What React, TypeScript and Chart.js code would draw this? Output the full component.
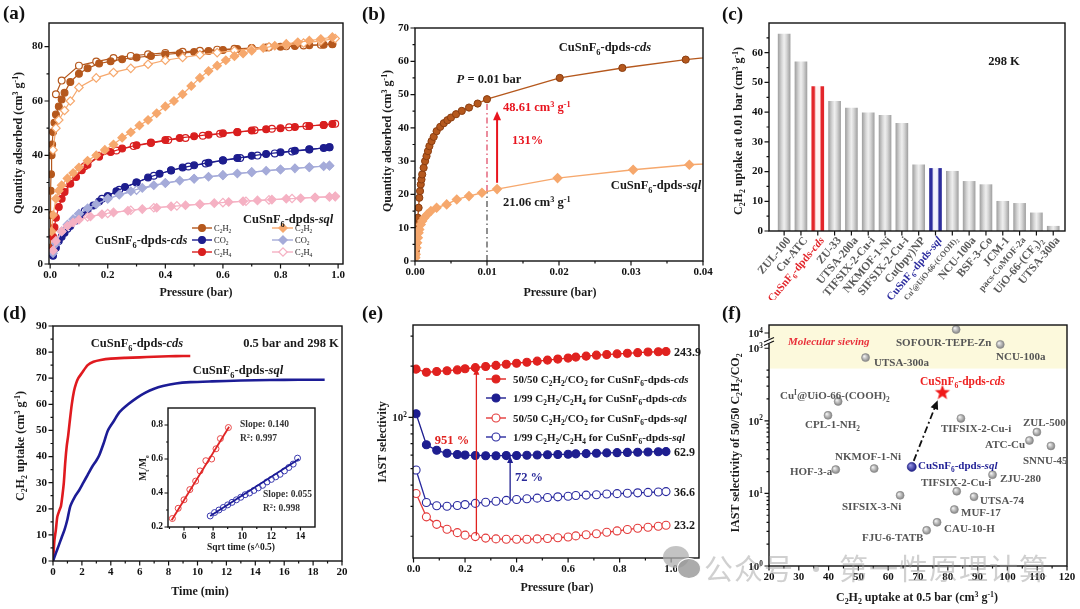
import React, { useEffect, useRef } from 'react';
import { Chart, registerables } from 'chart.js';

Chart.register(...registerables);

const FONT = '"Liberation Serif","Times New Roman","DejaVu Serif",serif';

/* ===================== DATA ===================== */
// (a) isotherms, pressure (bar) / uptake (cm3 g-1)
const A_CDS_C2H2_P = [0.0002, 0.001, 0.002, 0.003, 0.005, 0.007, 0.01, 0.015, 0.02, 0.03, 0.04, 0.05, 0.07, 0.1, 0.13, 0.17, 0.21, 0.25, 0.3, 0.35, 0.4, 0.45, 0.5, 0.55, 0.6, 0.65, 0.7, 0.75, 0.8, 0.85, 0.9, 0.95, 0.98];
const A_CDS_C2H2_Q = [6, 18, 27, 33, 40, 44, 48.6, 52, 55, 58, 60.5, 63, 67, 70, 72, 73.8, 74.6, 75.4, 76, 76.6, 77.1, 77.6, 78, 78.4, 78.8, 79.1, 79.4, 79.7, 80, 80.2, 80.5, 80.7, 80.9];
const A_CDS_C2H2_DP = [0.02, 0.04, 0.1, 0.16, 0.22, 0.28, 0.34, 0.4, 0.46, 0.52, 0.58, 0.64, 0.7, 0.76, 0.82, 0.88, 0.94, 0.98];
const A_CDS_C2H2_DQ = [62.5, 67.5, 73, 74.5, 75.8, 76.6, 77.2, 77.7, 78.1, 78.5, 78.9, 79.2, 79.5, 79.8, 80.1, 80.4, 80.7, 81];
const A_SQL_C2H2_P = [0.005, 0.01, 0.02, 0.03, 0.04, 0.06, 0.08, 0.1, 0.13, 0.16, 0.19, 0.22, 0.25, 0.28, 0.31, 0.34, 0.37, 0.4, 0.43, 0.46, 0.49, 0.52, 0.55, 0.58, 0.61, 0.64, 0.67, 0.7, 0.74, 0.78, 0.82, 0.86, 0.9, 0.94, 0.98];
const A_SQL_C2H2_Q = [12, 18, 24, 27, 29, 31.5, 33.5, 35.5, 38, 40, 42, 44, 46.5, 48.5, 51, 53, 55.5, 58, 60, 62.5, 65.5, 68.5, 71, 73, 75, 76.5, 77.5, 78.5, 79.5, 80.3, 81, 81.6, 82.2, 82.8, 83.5];
const A_SQL_C2H2_DP = [0.01, 0.02, 0.03, 0.05, 0.07, 0.1, 0.16, 0.22, 0.28, 0.34, 0.4, 0.46, 0.52, 0.58, 0.64, 0.7, 0.76, 0.82, 0.88, 0.94, 0.99];
const A_SQL_C2H2_DQ = [42, 50, 53, 56.5, 60, 65, 68.5, 70.5, 72, 73.5, 75, 76, 77, 77.8, 78.5, 79.2, 79.9, 80.6, 81.3, 82.1, 83];
const A_CDS_C2H4_P = [0.005, 0.01, 0.015, 0.02, 0.03, 0.04, 0.05, 0.07, 0.09, 0.11, 0.13, 0.17, 0.21, 0.25, 0.3, 0.35, 0.4, 0.45, 0.5, 0.55, 0.6, 0.65, 0.7, 0.75, 0.8, 0.85, 0.9, 0.95, 0.98];
const A_CDS_C2H4_Q = [5, 10, 13.5, 17, 21, 24, 26.5, 29.5, 32, 34.5, 36.5, 39.5, 41.2, 42.5, 43.7, 44.7, 45.6, 46.4, 47, 47.6, 48.1, 48.6, 49.1, 49.6, 50, 50.4, 50.8, 51.2, 51.5];
const A_CDS_C2H4_DP = [0.05, 0.12, 0.17, 0.23, 0.29, 0.35, 0.41, 0.47, 0.53, 0.59, 0.65, 0.71, 0.77, 0.83, 0.89, 0.95, 0.99];
const A_CDS_C2H4_DQ = [27.5, 36, 39.8, 41.8, 43.4, 44.5, 45.6, 46.4, 47.2, 47.9, 48.5, 49.2, 49.8, 50.3, 50.8, 51.2, 51.6];
const A_CDS_CO2_P = [0.01, 0.02, 0.03, 0.04, 0.05, 0.07, 0.09, 0.11, 0.13, 0.15, 0.17, 0.2, 0.23, 0.26, 0.3, 0.34, 0.38, 0.42, 0.46, 0.5, 0.55, 0.6, 0.65, 0.7, 0.75, 0.8, 0.85, 0.9, 0.95, 0.97];
const A_CDS_CO2_Q = [3, 6, 8.5, 10, 11.5, 14, 16, 18, 20, 21.5, 23, 25, 26.8, 28.3, 30, 31.8, 33.2, 34.4, 35.5, 36.3, 37.3, 38.2, 39, 39.8, 40.5, 41.1, 41.7, 42.2, 42.7, 43];
const A_CDS_CO2_DP = [0.06, 0.12, 0.18, 0.24, 0.3, 0.36, 0.42, 0.48, 0.54, 0.6, 0.66, 0.72, 0.78, 0.84, 0.9, 0.97];
const A_CDS_CO2_DQ = [13, 19.5, 24, 27.3, 30, 32.5, 34.5, 35.9, 37, 38.1, 39, 39.9, 40.7, 41.4, 42.1, 43];
const A_SQL_CO2_P = [0.01, 0.02, 0.04, 0.06, 0.08, 0.1, 0.13, 0.16, 0.2, 0.24, 0.28, 0.32, 0.36, 0.4, 0.45, 0.5, 0.55, 0.6, 0.65, 0.7, 0.75, 0.8, 0.85, 0.9, 0.95, 0.97];
const A_SQL_CO2_Q = [4, 7.5, 12, 14.5, 16.5, 18.5, 20.5, 22, 24, 25.5, 26.8, 28, 29, 29.8, 30.7, 31.4, 32.1, 32.7, 33.3, 33.8, 34.3, 34.8, 35.2, 35.6, 36, 36.2];
const A_SQL_CO2_DP = [0.1, 0.2, 0.3, 0.4, 0.5, 0.6, 0.7, 0.8, 0.9, 0.97];
const A_SQL_CO2_DQ = [18.5, 24, 27.2, 29.8, 31.4, 32.7, 33.8, 34.8, 35.6, 36.2];
const A_SQL_C2H4_P = [0.01, 0.02, 0.04, 0.06, 0.08, 0.1, 0.14, 0.18, 0.22, 0.27, 0.32, 0.37, 0.42, 0.47, 0.52, 0.57, 0.62, 0.67, 0.72, 0.77, 0.82, 0.87, 0.92, 0.97, 0.99];
const A_SQL_C2H4_Q = [5, 8.5, 12, 14, 15.3, 16.3, 17.5, 18.3, 19, 19.6, 20.2, 20.7, 21.2, 21.6, 22, 22.4, 22.8, 23.1, 23.4, 23.7, 24, 24.2, 24.5, 24.7, 24.8];
const A_SQL_C2H4_DP = [0.13, 0.2, 0.28, 0.36, 0.44, 0.52, 0.6, 0.68, 0.76, 0.84, 0.92, 0.99];
const A_SQL_C2H4_DQ = [17.3, 18.6, 19.8, 20.7, 21.4, 22, 22.6, 23.1, 23.6, 24.1, 24.5, 24.9];
const A_GAS_LABELS = ['C_{2}H_{2}', 'CO_{2}', 'C_{2}H_{4}'];
const A_X_TICKS = [0, 0.2, 0.4, 0.6, 0.8, 1.0];
const A_Y_TICKS = [0, 20, 40, 60, 80];

// (b) low-pressure C2H2
const B_P_CDS = [0.00005, 0.0001, 0.00015, 0.0002, 0.00025, 0.0003, 0.0004, 0.0005, 0.0006, 0.0007, 0.0008, 0.0009, 0.001, 0.0012, 0.0014, 0.0016, 0.0018, 0.002, 0.0023, 0.0026, 0.003, 0.0035, 0.004, 0.0045, 0.005, 0.0057, 0.0065, 0.0075, 0.0087, 0.01, 0.0201, 0.0288, 0.0376, 0.046];
const B_Q_CDS = [1.5, 3, 5, 7, 9, 11, 13, 16, 19, 21, 23, 24.5, 26, 28, 30, 31.5, 33, 34.5, 36, 37.3, 39, 40.3, 41.4, 42.3, 43.1, 44.1, 45.1, 46.1, 47.3, 48.61, 55, 58, 60.5, 62.3];
const B_P_SQL = [0.00005, 0.0001, 0.0002, 0.0003, 0.0004, 0.0005, 0.0006, 0.0008, 0.001, 0.0013, 0.0017, 0.0022, 0.003, 0.0044, 0.0058, 0.0075, 0.0093, 0.0114, 0.0198, 0.0303, 0.0381, 0.046];
const B_Q_SQL = [1, 2, 4, 5.5, 7, 8.5, 9.5, 11, 12, 13, 14, 15, 16, 17, 18.5, 19.5, 20.5, 21.6, 24.9, 27.4, 28.9, 30];
const B_X_TICKS = [0, 0.01, 0.02, 0.03, 0.04];
const B_Y_TICKS = [0, 10, 20, 30, 40, 50, 60, 70];

// (c) C2H2 uptake at 0.01 bar
const C_NAMES = ['ZUL-100', 'Cu-ATC', 'CuSnF_{6}-dpds-*cds*', 'ZU-33', 'UTSA-200a', 'TIFSIX-2-Cu-i', 'NKMOF-1-Ni', 'SIFSIX-2-Cu-i', 'Cu(bpy)NP', 'CuSnF_{6}-dpds-*sql*', 'Cu^{I}@UiO-66-(COOH)_{2}', 'NCU-100a', 'BSF-3-Co', 'JCM-1', 'pacs-CoMOF-2a', 'UiO-66-(CF_{3})_{2}', 'UTSA-300a'];
const C_VALUES = [66.3, 56.9, 48.61, 43.6, 41.4, 39.8, 38.9, 36.2, 22.3, 21.06, 20.1, 16.7, 15.6, 10.0, 9.3, 6.1, 1.6];
const C_Y_TICKS = [0, 10, 20, 30, 40, 50, 60];

// (d) kinetics, time (min) / uptake
const D_T_CDS = [0, 0.05, 0.1, 0.2, 0.3, 0.45, 0.55, 0.65, 0.75, 0.85, 0.95, 1.05, 1.15, 1.3, 1.45, 1.6, 1.75, 2.0, 2.4, 2.8, 3.3, 4, 5, 6, 7, 8, 9, 9.5];
const D_Q_CDS = [0, 4, 8, 12, 17, 19.5, 21, 25, 30, 38, 44, 48, 53, 60, 65, 68, 70, 72, 75, 76.3, 77, 77.5, 77.8, 78, 78.2, 78.4, 78.5, 78.5];
const D_T_SQL = [0, 0.2, 0.4, 0.6, 0.8, 1.0, 1.2, 1.5, 1.8, 2.1, 2.4, 2.7, 3.0, 3.2, 3.5, 3.8, 4.2, 4.6, 5.2, 5.8, 6.4, 7, 7.6, 8.5, 9.5, 11, 13, 15, 17, 18.8];
const D_Q_SQL = [0, 3, 6, 9, 12, 16, 21, 24.5, 27, 30, 33, 36, 38.5, 40.5, 45, 50, 53.5, 57, 60, 62.5, 64.5, 66, 67, 68, 68.5, 68.8, 69.1, 69.3, 69.4, 69.4];
const D_X_TICKS = [0, 2, 4, 6, 8, 10, 12, 14, 16, 18, 20];
const D_Y_TICKS = [0, 10, 20, 30, 40, 50, 60, 70, 80, 90];
// inset: sqrt time / Mt/Me
const DI_RED_X = [5.2, 5.6, 6.0, 6.4, 6.8, 7.1, 7.5, 7.9, 8.2, 8.5, 9.05];
const DI_RED_Y = [0.25, 0.31, 0.36, 0.42, 0.47, 0.53, 0.59, 0.6, 0.66, 0.72, 0.785];
const DI_RED_FIT_X = [5.15, 9.1];
const DI_RED_FIT_Y = [0.24, 0.79];
const DI_BLUE_X = [7.8, 8.1, 8.4, 8.7, 9.0, 9.3, 9.6, 9.9, 10.2, 10.5, 10.8, 11.1, 11.4, 11.7, 12.0, 12.3, 12.6, 12.9, 13.2, 13.5, 13.8];
const DI_BLUE_Y = [0.265, 0.285, 0.3, 0.315, 0.33, 0.345, 0.36, 0.375, 0.39, 0.4, 0.415, 0.43, 0.445, 0.465, 0.48, 0.495, 0.51, 0.53, 0.55, 0.57, 0.605];
const DI_BLUE_FIT_X = [7.8, 13.9];
const DI_BLUE_FIT_Y = [0.265, 0.6];
const DI_X_TICKS = [6, 8, 10, 12, 14];
const DI_Y_TICKS = [0.2, 0.4, 0.6, 0.8];

// (e) IAST selectivity
const E_P = [0.01, 0.05, 0.09, 0.13, 0.17, 0.20, 0.24, 0.28, 0.32, 0.36, 0.40, 0.44, 0.48, 0.52, 0.56, 0.60, 0.63, 0.67, 0.71, 0.75, 0.79, 0.83, 0.87, 0.91, 0.95, 0.98];
const E_CDS_CO2 = [192, 184, 186, 188, 190, 193, 196, 199, 202, 205, 208, 211, 214, 217, 220, 223, 226, 229, 232, 234, 236, 238, 240, 242, 243, 243.9];
const E_CDS_C2H4 = [105, 69, 64, 61.5, 60.5, 60, 59.7, 59.5, 59.5, 59.6, 59.7, 59.9, 60.1, 60.3, 60.5, 60.7, 61, 61.2, 61.5, 61.8, 62, 62.2, 62.4, 62.6, 62.8, 62.9];
const E_SQL_CO2 = [35.7, 26, 23.5, 22, 21, 20.3, 19.9, 19.5, 19.3, 19.2, 19.2, 19.2, 19.3, 19.4, 19.6, 19.8, 20.1, 20.4, 20.7, 21.1, 21.5, 21.9, 22.3, 22.6, 22.9, 23.2];
const E_SQL_C2H4 = [49, 31.6, 30.2, 30, 30.3, 30.7, 31.2, 31.7, 32.1, 32.5, 32.9, 33.2, 33.5, 33.8, 34.1, 34.4, 34.7, 34.9, 35.1, 35.4, 35.6, 35.8, 36, 36.2, 36.4, 36.6];
const E_LEGEND = [
  '50/50 C_{2}H_{2}/CO_{2} for CuSnF_{6}-dpds-*cds*',
  '1/99 C_{2}H_{2}/C_{2}H_{4} for CuSnF_{6}-dpds-*cds*',
  '50/50 C_{2}H_{2}/CO_{2} for CuSnF_{6}-dpds-*sql*',
  '1/99 C_{2}H_{2}/C_{2}H_{4} for CuSnF_{6}-dpds-*sql*',
];
const E_END_LABELS = ['243.9', '62.9', '23.2', '36.6'];
const E_X_TICKS = [0, 0.2, 0.4, 0.6, 0.8, 1.0];
const E_Y_MAJOR = [100];
const E_Y_MINOR = [20, 30, 40, 50, 60, 70, 80, 90, 200, 300];

// (f) selectivity vs uptake
const F_NAMES = ['SOFOUR-TEPE-Zn', 'NCU-100a', 'UTSA-300a', 'Cu^{I}@UiO-66-(COOH)_{2}', 'CPL-1-NH_{2}', 'TIFSIX-2-Cu-i', 'ZUL-500', 'ATC-Cu', 'SNNU-45', 'NKMOF-1-Ni', 'HOF-3-a', 'ZJU-280', 'TIFSIX-2-Cu-i', 'UTSA-74', 'SIFSIX-3-Ni', 'MUF-17', 'CAU-10-H', 'FJU-6-TATB'];
const F_X = [82.8, 97.6, 52.4, 43.2, 39.8, 84.4, 109.9, 107.4, 114.6, 55.3, 42.4, 95.0, 83.0, 88.8, 64.0, 82.2, 76.4, 72.9];
const F_Y = [16833, 1786, 743, 185, 119, 108, 70, 53.6, 45.1, 22, 21.3, 18.1, 10.7, 9.0, 9.4, 6.0, 4.0, 3.1];
const F_SQL = [67.9, 23.2];
const F_CDS = [78.2, 243.9];
const F_X_TICKS = [20, 30, 40, 50, 60, 70, 80, 90, 100, 110, 120];
const F_Y_MAJOR = [1, 10, 100, 1000, 10000];

/* ===================== HELPERS ===================== */
type Plot = { l: number; t: number; r: number; b: number };
type Seg = { t: string; sub?: boolean; sup?: boolean; it?: boolean };

const xy = (xs: number[], ys: number[]) => xs.map((x, i) => ({ x, y: ys[i] }));

function parseRich(s: string): Seg[] {
  const out: Seg[] = [];
  let buf = '';
  let it = false;
  let i = 0;
  const flush = () => { if (buf) { out.push({ t: buf, it }); buf = ''; } };
  while (i < s.length) {
    const ch = s[i];
    if (ch === '*') { flush(); it = !it; i++; continue; }
    if ((ch === '_' || ch === '^') && s[i + 1] === '{') {
      flush();
      const j = s.indexOf('}', i + 2);
      out.push({ t: s.slice(i + 2, j), sub: ch === '_', sup: ch === '^', it });
      i = j + 1;
      continue;
    }
    buf += ch;
    i++;
  }
  flush();
  return out;
}

function drawRich(ctx: any, s: string, x: number, y: number, o: any = {}) {
  const size = o.size ?? 11;
  const bold = o.bold ?? true;
  const segs = parseRich(s);
  const f = (g: Seg) => `${g.it || o.italic ? 'italic ' : ''}${bold ? 'bold ' : ''}${g.sub || g.sup ? (size * 0.66).toFixed(1) : size}px ${FONT}`;
  let total = 0;
  const ws = segs.map((g) => { ctx.font = f(g); const w = ctx.measureText(g.t).width; total += w; return w; });
  ctx.save();
  ctx.translate(x, y);
  if (o.rot) ctx.rotate(o.rot);
  ctx.fillStyle = o.color ?? '#1a1a1a';
  ctx.textAlign = 'left';
  ctx.textBaseline = 'alphabetic';
  let cx = o.align === 'center' ? -total / 2 : o.align === 'right' ? -total : 0;
  const base = size * 0.35;
  segs.forEach((g, k) => {
    ctx.font = f(g);
    const dy = g.sub ? size * 0.25 : g.sup ? -size * 0.38 : 0;
    ctx.fillText(g.t, cx, base + dy);
    cx += ws[k];
  });
  ctx.restore();
}

function seg(ctx: any, x1: number, y1: number, x2: number, y2: number, color: string, lw: number, dash?: number[]) {
  ctx.save();
  ctx.strokeStyle = color;
  ctx.lineWidth = lw;
  if (dash) ctx.setLineDash(dash);
  ctx.beginPath();
  ctx.moveTo(x1, y1);
  ctx.lineTo(x2, y2);
  ctx.stroke();
  ctx.restore();
}

function arrow(ctx: any, x1: number, y1: number, x2: number, y2: number, color: string, lw: number, hl = 8, hw = 3.5, dash?: number[]) {
  const a = Math.atan2(y2 - y1, x2 - x1);
  const bx = x2 - Math.cos(a) * hl;
  const by = y2 - Math.sin(a) * hl;
  seg(ctx, x1, y1, x2 - Math.cos(a) * hl * 0.6, y2 - Math.sin(a) * hl * 0.6, color, lw, dash);
  ctx.save();
  ctx.fillStyle = color;
  ctx.beginPath();
  ctx.moveTo(x2, y2);
  ctx.lineTo(bx - Math.sin(a) * hw, by + Math.cos(a) * hw);
  ctx.lineTo(bx + Math.sin(a) * hw, by - Math.cos(a) * hw);
  ctx.closePath();
  ctx.fill();
  ctx.restore();
}

function marker(ctx: any, style: string, x: number, y: number, r: number, fill: string, stroke: string, lw = 1.2) {
  ctx.save();
  ctx.beginPath();
  if (style === 'rectRot') {
    ctx.moveTo(x, y - r); ctx.lineTo(x + r, y); ctx.lineTo(x, y + r); ctx.lineTo(x - r, y); ctx.closePath();
  } else {
    ctx.arc(x, y, r, 0, Math.PI * 2);
  }
  ctx.fillStyle = fill;
  ctx.fill();
  ctx.strokeStyle = stroke;
  ctx.lineWidth = lw;
  ctx.stroke();
  ctx.restore();
}

function axis(kind: 'x' | 'y', W: number, H: number, plot: Plot, o: any) {
  return {
    type: o.type || 'linear',
    min: o.min,
    max: o.max,
    offset: false,
    border: { display: false },
    grid: { display: false, drawTicks: true, tickLength: 4 },
    ticks: {
      display: o.labels !== false,
      font: { family: FONT, weight: 'bold', size: o.size || 11 },
      color: '#111',
      padding: o.pad ?? 2,
      maxRotation: 0,
      minRotation: 0,
      autoSkip: false,
      includeBounds: false,
      callback: o.fmt || ((v: any) => String(v)),
    },
    afterBuildTicks: (s: any) => { s.ticks = o.ticks.map((v: number) => ({ value: v })); },
    afterFit: (s: any) => { if (kind === 'x') s.height = H - plot.b; else s.width = plot.l; },
  };
}

function base(W: number, H: number, plot: Plot, scales: any) {
  return {
    responsive: false,
    maintainAspectRatio: false,
    animation: false,
    devicePixelRatio: 1,
    events: [],
    layout: { padding: { left: 0, top: plot.t, right: W - plot.r, bottom: 0 } },
    plugins: { legend: { display: false }, tooltip: { enabled: false }, title: { display: false } },
    scales,
  };
}

function deco(o: { minorX?: number[]; minorY?: number[]; majorY?: number[]; tl?: number; before?: (c: any, ctx: any) => void; after?: (c: any, ctx: any) => void; white?: boolean }) {
  return {
    id: 'deco',
    beforeDraw(chart: any) {
      if (o.white) {
        const a = chart.chartArea;
        const ctx = chart.ctx;
        ctx.save();
        ctx.fillStyle = '#fff';
        ctx.fillRect(a.left, a.top, a.right - a.left, a.bottom - a.top);
        ctx.restore();
      }
    },
    beforeDatasetsDraw(chart: any) {
      if (o.before) { const ctx = chart.ctx; ctx.save(); o.before(chart, ctx); ctx.restore(); }
    },
    afterDraw(chart: any) {
      const ctx = chart.ctx;
      const a = chart.chartArea;
      const xs = chart.scales.x;
      const ys = chart.scales.y;
      const L = o.tl ?? 4.5;
      ctx.save();
      ctx.strokeStyle = '#111';
      ctx.lineWidth = 1.2;
      ctx.beginPath();
      xs.ticks.forEach((t: any) => { const p = xs.getPixelForValue(t.value); ctx.moveTo(p, a.bottom); ctx.lineTo(p, a.bottom + L); });
      (o.minorX || []).forEach((v) => { const p = xs.getPixelForValue(v); ctx.moveTo(p, a.bottom); ctx.lineTo(p, a.bottom + L * 0.55); });
      (o.majorY || ys.ticks.map((t: any) => t.value)).forEach((v: number) => { const p = ys.getPixelForValue(v); ctx.moveTo(a.left, p); ctx.lineTo(a.left - L, p); });
      (o.minorY || []).forEach((v) => { const p = ys.getPixelForValue(v); ctx.moveTo(a.left, p); ctx.lineTo(a.left - L * 0.55, p); });
      ctx.stroke();
      ctx.lineWidth = 1.4;
      ctx.strokeRect(a.left, a.top, a.right - a.left, a.bottom - a.top);
      if (o.after) o.after(chart, ctx);
      ctx.restore();
    },
  };
}

const C_BROWN = '#b5581d';
const C_NAVY = '#1d1d8e';
const C_RED = '#d91f1f';
const C_ORANGE = '#f6a86d';
const C_LAV = '#a5abd9';
const C_PINK = '#f5b1c3';

/* ===================== PANEL (a) ===================== */
function cfgA(W: number, H: number) {
  const plot = { l: 49, t: 23, r: 343, b: 264 };
  const S = [
    { p: A_SQL_C2H4_P, q: A_SQL_C2H4_Q, c: C_PINK, s: 'rectRot', open: false },
    { p: A_SQL_C2H4_DP, q: A_SQL_C2H4_DQ, c: C_PINK, s: 'rectRot', open: true },
    { p: A_SQL_CO2_P, q: A_SQL_CO2_Q, c: C_LAV, s: 'rectRot', open: false },
    { p: A_SQL_CO2_DP, q: A_SQL_CO2_DQ, c: C_LAV, s: 'rectRot', open: true },
    { p: A_SQL_C2H2_P, q: A_SQL_C2H2_Q, c: C_ORANGE, s: 'rectRot', open: false },
    { p: A_SQL_C2H2_DP, q: A_SQL_C2H2_DQ, c: C_ORANGE, s: 'rectRot', open: true },
    { p: A_CDS_CO2_P, q: A_CDS_CO2_Q, c: C_NAVY, s: 'circle', open: false },
    { p: A_CDS_CO2_DP, q: A_CDS_CO2_DQ, c: C_NAVY, s: 'circle', open: true },
    { p: A_CDS_C2H4_P, q: A_CDS_C2H4_Q, c: C_RED, s: 'circle', open: false },
    { p: A_CDS_C2H4_DP, q: A_CDS_C2H4_DQ, c: C_RED, s: 'circle', open: true },
    { p: A_CDS_C2H2_P, q: A_CDS_C2H2_Q, c: C_BROWN, s: 'circle', open: false },
    { p: A_CDS_C2H2_DP, q: A_CDS_C2H2_DQ, c: C_BROWN, s: 'circle', open: true },
  ];
  const datasets = S.map((d) => ({
    data: xy(d.p, d.q),
    showLine: true,
    borderColor: d.c,
    backgroundColor: d.c,
    borderWidth: 1.2,
    pointStyle: d.s,
    pointRadius: d.s === 'rectRot' ? 4.2 : 3.4,
    pointBorderWidth: 1.2,
    pointBorderColor: d.c,
    pointBackgroundColor: d.open ? '#fff' : d.c,
  }));
  return {
    type: 'scatter',
    data: { datasets },
    options: base(W, H, plot, {
      x: axis('x', W, H, plot, { min: -0.004, max: 1.017, ticks: A_X_TICKS, fmt: (v: number) => v.toFixed(1), pad: 1 }),
      y: axis('y', W, H, plot, { min: 0, max: 88.7, ticks: A_Y_TICKS }),
    }),
    plugins: [deco({
      minorX: [0.1, 0.3, 0.5, 0.7, 0.9],
      minorY: [10, 30, 50, 70],
      after: (c, ctx) => {
        const cdsCols = [C_BROWN, C_NAVY, C_RED];
        const sqlCols = [C_ORANGE, C_LAV, C_PINK];
        const rows = [228, 240, 252];
        A_GAS_LABELS.forEach((lab, k) => {
          seg(ctx, 192, rows[k], 212, rows[k], cdsCols[k], 1.4);
          marker(ctx, 'circle', 202, rows[k], 3.4, cdsCols[k], cdsCols[k]);
          drawRich(ctx, lab, 214, rows[k], { size: 8.5, bold: false });
          seg(ctx, 272, rows[k], 293, rows[k], sqlCols[k], 1.4);
          marker(ctx, 'rectRot', 283, rows[k], 4.2, k === 2 ? '#fff' : sqlCols[k], sqlCols[k]);
          drawRich(ctx, lab, 295, rows[k], { size: 8.5, bold: false });
        });
        drawRich(ctx, 'CuSnF_{6}-dpds-*cds*', 95, 240, { size: 12.5 });
        drawRich(ctx, 'CuSnF_{6}-dpds-*sql*', 243, 219, { size: 12.5 });
        drawRich(ctx, 'Quantity adsorbed (cm^{3} g^{-1})', 18, 143, { size: 12, rot: -Math.PI / 2, align: 'center' });
        drawRich(ctx, 'Pressure (bar)', 196, 292, { size: 12, align: 'center' });
      },
    })],
  };
}

/* ===================== PANEL (b) ===================== */
function cfgB(W: number, H: number) {
  const plot = { l: 55, t: 28, r: 343, b: 261 };
  const datasets = [
    { data: xy(B_P_SQL, B_Q_SQL), showLine: true, borderColor: C_ORANGE, backgroundColor: C_ORANGE, borderWidth: 1.4, pointStyle: 'rectRot', pointRadius: 4.3, pointBackgroundColor: C_ORANGE, pointBorderColor: C_ORANGE },
    { data: xy(B_P_CDS, B_Q_CDS), showLine: true, borderColor: C_BROWN, backgroundColor: C_BROWN, borderWidth: 1.4, pointStyle: 'circle', pointRadius: 3.6, pointBackgroundColor: C_BROWN, pointBorderColor: '#8a3d10', pointBorderWidth: 1 },
  ];
  return {
    type: 'scatter',
    data: { datasets },
    options: base(W, H, plot, {
      x: axis('x', W, H, plot, { min: 0, max: 0.04, ticks: B_X_TICKS, fmt: (v: number) => v.toFixed(2), pad: 1 }),
      y: axis('y', W, H, plot, { min: 0, max: 70, ticks: B_Y_TICKS }),
    }),
    plugins: [deco({
      minorX: [0.005, 0.015, 0.025, 0.035],
      minorY: [5, 15, 25, 35, 45, 55, 65],
      before: (c, ctx) => {
        const xs = c.scales.x; const ys = c.scales.y;
        const px = xs.getPixelForValue(0.01);
        seg(ctx, px, ys.getPixelForValue(0), px, ys.getPixelForValue(21), '#555', 1.3, [6, 3, 1.5, 3]);
        seg(ctx, px, ys.getPixelForValue(21), px, ys.getPixelForValue(48.6), '#e0506a', 1.3, [6, 3, 1.5, 3]);
      },
      after: (c, ctx) => {
        const xs = c.scales.x; const ys = c.scales.y;
        const ax = xs.getPixelForValue(0.0114);
        arrow(ctx, ax, ys.getPixelForValue(23.5), ax, ys.getPixelForValue(45), '#e8141e', 2, 9, 4);
        drawRich(ctx, 'CuSnF_{6}-dpds-*cds*', 245, 47, { size: 12.5, align: 'center' });
        drawRich(ctx, '*P* = 0.01 bar', 129, 79, { size: 12.5, align: 'center' });
        drawRich(ctx, '48.61 cm^{3} g^{-1}', 143, 107, { size: 12.5, color: '#e8141e' });
        drawRich(ctx, '131%', 152, 140, { size: 12.5, color: '#e8141e' });
        drawRich(ctx, 'CuSnF_{6}-dpds-*sql*', 296, 185, { size: 12.5, align: 'center' });
        drawRich(ctx, '21.06 cm^{3} g^{-1}', 143, 202, { size: 12.5 });
        drawRich(ctx, 'Quantity adsorbed (cm^{3} g^{-1})', 27, 141, { size: 12, rot: -Math.PI / 2, align: 'center' });
        drawRich(ctx, 'Pressure (bar)', 200, 292, { size: 12, align: 'center' });
      },
    })],
  };
}

/* ===================== PANEL (c) ===================== */
function barFill(c: any) {
  const chart = c.chart;
  if (c.type !== 'data' || !chart.chartArea || !c.raw) return '#cccccc';
  const x = chart.scales.x.getPixelForValue(c.raw.x);
  const hw = 6;
  const g = chart.ctx.createLinearGradient(x - hw, 0, x + hw, 0);
  const nm = C_NAMES[c.dataIndex] || '';
  if (nm.includes('*cds*') || nm.includes('*sql*')) {
    const col = nm.includes('*cds*') ? '#e3262b' : '#2d2d9c';
    const mid = nm.includes('*cds*') ? '#fff3f3' : '#f3f3fc';
    g.addColorStop(0, col); g.addColorStop(0.2, col); g.addColorStop(0.34, mid);
    g.addColorStop(0.66, mid); g.addColorStop(0.8, col); g.addColorStop(1, col);
  } else {
    g.addColorStop(0, '#a2a2a2'); g.addColorStop(0.3, '#d6d6d6'); g.addColorStop(0.5, '#efefef');
    g.addColorStop(0.7, '#d6d6d6'); g.addColorStop(1, '#a2a2a2');
  }
  return g;
}

function cfgC(W: number, H: number) {
  const plot = { l: 49, t: 23, r: 345, b: 231 };
  const idx = C_VALUES.map((_, i) => i + 1);
  return {
    type: 'bar',
    data: { datasets: [{ data: C_VALUES.map((v, i) => ({ x: i + 1, y: v })), barThickness: 12, backgroundColor: barFill, borderWidth: 0 }] },
    options: base(W, H, plot, {
      x: axis('x', W, H, plot, { min: 0.1, max: 17.7, ticks: idx, labels: false }),
      y: axis('y', W, H, plot, { min: 0, max: 70, ticks: C_Y_TICKS }),
    }),
    plugins: [deco({
      minorY: [5, 15, 25, 35, 45, 55, 65],
      after: (c, ctx) => {
        const xs = c.scales.x; const a = c.chartArea;
        C_NAMES.forEach((nm, i) => {
          const x = xs.getPixelForValue(i + 1);
          const col = nm.includes('*cds*') ? '#e3262b' : nm.includes('*sql*') ? '#2b2b9e' : '#5a5a5a';
          const size = nm.length > 20 ? 8 : nm.startsWith('pacs') ? 9.5 : nm.includes('dpds') ? 11 : 11.5;
          drawRich(ctx, nm, x + 4, a.bottom + 7, { rot: (-50 * Math.PI) / 180, align: 'right', size, color: col });
        });
        drawRich(ctx, '298 K', 284, 61, { size: 12.5, align: 'center' });
        drawRich(ctx, 'C_{2}H_{2} uptake at 0.01 bar (cm^{3} g^{-1})', 18, 131, { size: 12, rot: -Math.PI / 2, align: 'center' });
      },
    })],
  };
}

/* ===================== PANEL (d) ===================== */
function cfgD(W: number, H: number) {
  const plot = { l: 53, t: 26, r: 342, b: 261 };
  const datasets = [
    { data: xy(D_T_SQL, D_Q_SQL), showLine: true, borderColor: '#1c1c96', borderWidth: 2.6, pointRadius: 0, tension: 0.25 },
    { data: xy(D_T_CDS, D_Q_CDS), showLine: true, borderColor: '#e01a1f', borderWidth: 2.6, pointRadius: 0, tension: 0.25 },
  ];
  return {
    type: 'scatter',
    data: { datasets },
    options: base(W, H, plot, {
      x: axis('x', W, H, plot, { min: 0, max: 20, ticks: D_X_TICKS, pad: 1 }),
      y: axis('y', W, H, plot, { min: 0, max: 90, ticks: D_Y_TICKS }),
    }),
    plugins: [deco({
      minorX: [1, 3, 5, 7, 9, 11, 13, 15, 17, 19],
      minorY: [5, 15, 25, 35, 45, 55, 65, 75, 85],
      after: (c, ctx) => {
        drawRich(ctx, 'CuSnF_{6}-dpds-*cds*', 137, 43, { size: 12.5, align: 'center' });
        drawRich(ctx, '0.5 bar and 298 K', 291, 43, { size: 12.5, align: 'center' });
        drawRich(ctx, 'CuSnF_{6}-dpds-*sql*', 238, 70, { size: 12.5, align: 'center' });
        drawRich(ctx, 'C_{2}H_{2} uptake (cm^{3} g^{-1})', 20, 146, { size: 12, rot: -Math.PI / 2, align: 'center' });
        drawRich(ctx, 'Time (min)', 200, 291, { size: 12, align: 'center' });
      },
    })],
  };
}

function cfgInset(W: number, H: number) {
  const plot = { l: 38, t: 10, r: 185, b: 129 };
  const datasets = [
    { data: xy(DI_RED_FIT_X, DI_RED_FIT_Y), showLine: true, borderColor: '#e02525', borderWidth: 1.8, pointRadius: 0 },
    { data: xy(DI_RED_X, DI_RED_Y), showLine: false, pointRadius: 3, pointBorderColor: '#e84848', pointBackgroundColor: 'rgba(0,0,0,0)', pointBorderWidth: 1 },
    { data: xy(DI_BLUE_FIT_X, DI_BLUE_FIT_Y), showLine: true, borderColor: '#1c1c96', borderWidth: 1.8, pointRadius: 0 },
    { data: xy(DI_BLUE_X, DI_BLUE_Y), showLine: false, pointRadius: 3, pointBorderColor: '#3a3ab0', pointBackgroundColor: 'rgba(0,0,0,0)', pointBorderWidth: 1 },
  ];
  return {
    type: 'scatter',
    data: { datasets },
    options: base(W, H, plot, {
      x: axis('x', W, H, plot, { min: 4.9, max: 15, ticks: DI_X_TICKS, size: 9.5, pad: 0 }),
      y: axis('y', W, H, plot, { min: 0.2, max: 0.9, ticks: DI_Y_TICKS, size: 9.5, fmt: (v: number) => v.toFixed(1), pad: 1 }),
    }),
    plugins: [deco({
      white: true,
      tl: 3.5,
      minorX: [5, 7, 9, 11, 13],
      minorY: [0.3, 0.5, 0.7],
      after: (c, ctx) => {
        drawRich(ctx, 'Slope: 0.140', 110, 26, { size: 9.5, color: '#333' });
        drawRich(ctx, 'R^{2}: 0.997', 110, 40, { size: 9.5, color: '#333' });
        drawRich(ctx, 'Slope: 0.055', 133, 96, { size: 9.5, color: '#333' });
        drawRich(ctx, 'R^{2}: 0.998', 133, 110, { size: 9.5, color: '#333' });
        drawRich(ctx, 'M_{t}/M_{e}', 13, 70, { size: 9.5, rot: -Math.PI / 2, align: 'center' });
        drawRich(ctx, 'Sqrt time (s^0.5)', 111, 149, { size: 9.5, align: 'center' });
      },
    })],
  };
}

/* ===================== PANEL (e) ===================== */
function cfgE(W: number, H: number) {
  const plot = { l: 53, t: 25, r: 339, b: 258 };
  const RED = '#e0221f';
  const NAVY = '#1e1e90';
  const mk = (ys: number[], col: string, open: boolean) => ({
    data: xy(E_P, ys), showLine: true, borderColor: col, backgroundColor: col, borderWidth: 1.3,
    pointStyle: 'circle', pointRadius: 4, pointBorderColor: col, pointBorderWidth: 1.1,
    pointBackgroundColor: open ? '#fff' : col,
  });
  const datasets = [mk(E_SQL_CO2, '#e43a3a', true), mk(E_SQL_C2H4, '#2a2aa0', true), mk(E_CDS_C2H4, NAVY, false), mk(E_CDS_CO2, RED, false)];
  return {
    type: 'scatter',
    data: { datasets },
    options: base(W, H, plot, {
      x: axis('x', W, H, plot, { min: -0.002, max: 1.108, ticks: E_X_TICKS, fmt: (v: number) => v.toFixed(1), pad: 1 }),
      y: axis('y', W, H, plot, { type: 'logarithmic', min: 14.9, max: 349, ticks: E_Y_MAJOR, labels: false }),
    }),
    plugins: [deco({
      minorX: [0.1, 0.3, 0.5, 0.7, 0.9],
      majorY: E_Y_MAJOR,
      minorY: E_Y_MINOR,
      after: (c, ctx) => {
        const xs = c.scales.x; const ys = c.scales.y; const a = c.chartArea;
        drawRich(ctx, '10^{2}', a.left - 6, ys.getPixelForValue(100), { size: 11, align: 'right' });
        const cols = [RED, NAVY, '#e43a3a', '#2a2aa0'];
        const rows = [79, 98, 118, 137];
        E_LEGEND.forEach((t, k) => {
          seg(ctx, 126, rows[k], 146, rows[k], cols[k], 1.4);
          marker(ctx, 'circle', 136, rows[k], 4, k < 2 ? cols[k] : '#fff', cols[k], 1.1);
          drawRich(ctx, t, 153, rows[k], { size: 11 });
        });
        const lastX = xs.getPixelForValue(E_P[E_P.length - 1]) + 8;
        const ends = [E_CDS_CO2, E_CDS_C2H4, E_SQL_CO2, E_SQL_C2H4];
        ends.forEach((arr, k) => drawRich(ctx, E_END_LABELS[k], lastX, ys.getPixelForValue(arr[arr.length - 1]), { size: 12 }));
        const rx = xs.getPixelForValue(0.244);
        arrow(ctx, rx, ys.getPixelForValue(20.2), rx, ys.getPixelForValue(196), RED, 1.3, 7, 3);
        const bx = xs.getPixelForValue(0.375);
        arrow(ctx, bx, ys.getPixelForValue(33), bx, ys.getPixelForValue(59.2), NAVY, 1.3, 7, 3);
        drawRich(ctx, '951 %', 92, 140, { size: 12.5, color: RED, align: 'center' });
        drawRich(ctx, '72 %', 169, 177, { size: 12.5, color: '#2a2a9a', align: 'center' });
        drawRich(ctx, 'IAST selectivity', 22, 142, { size: 12, rot: -Math.PI / 2, align: 'center' });
        drawRich(ctx, 'Pressure (bar)', 197, 287, { size: 12, align: 'center' });
      },
    })],
  };
}

/* ===================== PANEL (f) ===================== */
const fy = (v: number) => (v <= 1000 ? Math.log10(v) : 3 + (Math.log10(v) - 3) * 0.21);

function starImage(r: number, color: string) {
  const s = Math.ceil(r * 2 + 2);
  const cv = document.createElement('canvas');
  cv.width = s;
  cv.height = s;
  const ctx = cv.getContext('2d') as any;
  ctx.beginPath();
  for (let k = 0; k < 10; k++) {
    const ang = -Math.PI / 2 + (k * Math.PI) / 5;
    const rr = k % 2 === 0 ? r : r * 0.42;
    ctx.lineTo(s / 2 + rr * Math.cos(ang), s / 2 + rr * Math.sin(ang));
  }
  ctx.closePath();
  ctx.fillStyle = color;
  ctx.fill();
  return cv;
}

function sphere(light: string, dark: string, r: number) {
  return (c: any) => {
    const chart = c.chart;
    if (c.type !== 'data' || !chart.chartArea || !c.raw) return dark;
    const x = chart.scales.x.getPixelForValue(c.raw.x);
    const y = chart.scales.y.getPixelForValue(c.raw.y);
    const g = chart.ctx.createRadialGradient(x - r * 0.35, y - r * 0.35, 0.3, x, y, r * 1.1);
    g.addColorStop(0, light);
    g.addColorStop(1, dark);
    return g;
  };
}

function cfgF(W: number, H: number) {
  const plot = { l: 49, t: 25, r: 347, b: 266 };
  const minorY: number[] = [];
  [1, 10, 100].forEach((d) => [2, 3, 4, 5, 6, 7, 8, 9].forEach((m) => { if (d * m < 600) minorY.push(Math.log10(d * m)); }));
  const datasets = [
    { data: F_X.map((x, i) => ({ x, y: fy(F_Y[i]) })), showLine: false, pointRadius: 4, pointBackgroundColor: sphere('#f2f2f2', '#7a7a7a', 4), pointBorderColor: '#8a8a8a', pointBorderWidth: 0.6 },
    { data: [{ x: F_SQL[0], y: fy(F_SQL[1]) }], showLine: false, pointRadius: 4.5, pointBackgroundColor: sphere('#9a9ae6', '#161680', 4.5), pointBorderColor: '#161680', pointBorderWidth: 0.6 },
    { data: [{ x: F_CDS[0], y: fy(F_CDS[1]) }], showLine: false, pointStyle: starImage(8, '#f01818'), pointRadius: 8 },
  ];
  return {
    type: 'scatter',
    data: { datasets },
    options: base(W, H, plot, {
      x: axis('x', W, H, plot, { min: 20, max: 120, ticks: F_X_TICKS, pad: 1 }),
      y: axis('y', W, H, plot, { min: 0, max: 3.32, ticks: F_Y_MAJOR.map(fy), labels: false }),
    }),
    plugins: [deco({
      minorX: [25, 35, 45, 55, 65, 75, 85, 95, 105, 115],
      minorY,
      before: (c, ctx) => {
        const a = c.chartArea; const ys = c.scales.y;
        const yb = ys.getPixelForValue(2.72);
        ctx.fillStyle = '#fcf9dc';
        ctx.fillRect(a.left, a.top, a.right - a.left, yb - a.top);
      },
      after: (c, ctx) => {
        const xs = c.scales.x; const ys = c.scales.y; const a = c.chartArea;
        F_Y_MAJOR.forEach((v) => drawRich(ctx, '10^{' + Math.round(Math.log10(v)) + '}', a.left - 6, ys.getPixelForValue(fy(v)), { size: 11, align: 'right' }));
        const pb = ys.getPixelForValue(3.1);
        ctx.fillStyle = '#fff';
        ctx.fillRect(a.left - 2, pb - 2.5, 4, 5);
        seg(ctx, a.left - 5, pb + 1, a.left + 5, pb - 3.5, '#111', 1.2);
        seg(ctx, a.left - 5, pb + 4.5, a.left + 5, pb, '#111', 1.2);
        const x1 = xs.getPixelForValue(F_SQL[0]) + 2; const y1 = ys.getPixelForValue(fy(F_SQL[1])) - 6;
        const x2 = xs.getPixelForValue(76.6); const y2 = ys.getPixelForValue(fy(192));
        arrow(ctx, x1, y1, x2, y2, '#111', 1.8, 9, 4, [7, 3, 2, 3]);
        const F_POS: number[][] = [[176, 42], [276, 56], [154, 62], [60, 95], [85, 124], [221, 128], [303, 122], [265, 144], [303, 160], [115, 156], [70, 171], [280, 178], [201, 182], [260, 200], [122, 206], [241, 212], [224, 228], [142, 237]];
        F_NAMES.forEach((nm, i) => drawRich(ctx, nm, F_POS[i][0], F_POS[i][1], { size: 11, color: '#555' }));
        drawRich(ctx, 'Molecular sieving', 68, 41, { size: 11, color: '#e8303a', italic: true });
        drawRich(ctx, 'CuSnF_{6}-dpds-*cds*', 200, 81, { size: 11.5, color: '#ee2222' });
        drawRich(ctx, 'CuSnF_{6}-dpds-*sql*', 198, 165, { size: 11, color: '#1f1f95' });
        drawRich(ctx, 'IAST selectivity of 50/50 C_{2}H_{2}/CO_{2}', 15, 143, { size: 12, rot: -Math.PI / 2, align: 'center' });
        drawRich(ctx, 'C_{2}H_{2} uptake at 0.5 bar (cm^{3} g^{-1})', 197, 297, { size: 12, align: 'center' });
      },
    })],
  };
}

/* ===================== COMPONENTS ===================== */
function ChartBox(props: { x: number; y: number; w: number; h: number; build: (w: number, h: number) => any }) {
  const ref = useRef<HTMLCanvasElement>(null);
  useEffect(() => {
    const chart = new Chart(ref.current as HTMLCanvasElement, props.build(props.w, props.h));
    return () => chart.destroy();
  }, []);
  return (
    <canvas
      ref={ref}
      width={props.w}
      height={props.h}
      style={{ position: 'absolute', left: props.x, top: props.y, width: props.w, height: props.h }}
    />
  );
}

const labelStyle = (left: number, top: number): React.CSSProperties => ({
  position: 'absolute', left, top, fontFamily: FONT, fontWeight: 'bold', fontSize: 19, lineHeight: '20px', color: '#111',
});

export default function App() {
  return (
    <div style={{ position: 'absolute', left: 0, top: 0, width: 1080, height: 609, background: '#fff', overflow: 'hidden' }}>
      <ChartBox x={0} y={0} w={360} h={300} build={cfgA} />
      <ChartBox x={360} y={0} w={360} h={300} build={cfgB} />
      <ChartBox x={720} y={0} w={360} h={300} build={cfgC} />
      <ChartBox x={0} y={300} w={360} h={309} build={cfgD} />
      <ChartBox x={130} y={398} w={195} h={160} build={cfgInset} />
      <ChartBox x={360} y={300} w={360} h={309} build={cfgE} />
      <ChartBox x={720} y={300} w={360} h={309} build={cfgF} />
      <div style={labelStyle(3, 3)}>(a)</div>
      <div style={labelStyle(362, 4)}>(b)</div>
      <div style={labelStyle(722, 4)}>(c)</div>
      <div style={labelStyle(3, 303)}>(d)</div>
      <div style={labelStyle(362, 303)}>(e)</div>
      <div style={labelStyle(722, 303)}>(f)</div>
      <div style={{ position: 'absolute', left: 663, top: 546, width: 26, height: 22, borderRadius: '50%', background: 'rgba(175,175,175,0.75)' }} />
      <div style={{ position: 'absolute', left: 677, top: 558, width: 22, height: 19, borderRadius: '50%', background: 'rgba(150,150,150,0.8)', border: '1.5px solid #fff' }} />
      <div style={{ position: 'absolute', left: 704, top: 548, fontFamily: '"Noto Sans CJK SC", sans-serif', fontSize: 29, lineHeight: '38px', letterSpacing: 1, color: 'rgba(150,150,150,0.45)', whiteSpace: 'nowrap' }}>
        公众号 · 第一性原理计算
      </div>
    </div>
  );
}
